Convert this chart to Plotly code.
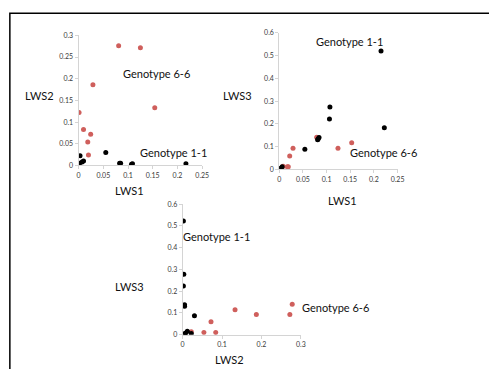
import plotly.graph_objects as go

W, H = 489, 369

# ---- Data ----
# Panel 1: LWS1 (x) vs LWS2 (y)
p1_g11_lws1 = [0.003, 0.055, 0.002, 0.007, 0.010, 0.083, 0.085, 0.107, 0.109, 0.217]
p1_g11_lws2 = [0.0225, 0.030, 0.005, 0.008, 0.010, 0.005, 0.005, 0.003, 0.004, 0.004]
p1_g66_lws1 = [0.081, 0.125, 0.029, 0.154, 0.001, 0.010, 0.0245, 0.0186, 0.020]
p1_g66_lws2 = [0.276, 0.2715, 0.186, 0.133, 0.122, 0.083, 0.072, 0.054, 0.024]

# Panel 2: LWS1 (x) vs LWS3 (y)
p2_g11_lws1 = [0.215, 0.107, 0.106, 0.222, 0.084, 0.082, 0.081, 0.054, 0.003, 0.002, 0.006]
p2_g11_lws3 = [0.520, 0.274, 0.221, 0.183, 0.140, 0.133, 0.130, 0.0886, 0.005, 0.004, 0.011]
p2_g66_lws1 = [0.079, 0.153, 0.124, 0.029, 0.022, 0.008, 0.017, 0.019]
p2_g66_lws3 = [0.141, 0.117, 0.093, 0.093, 0.059, 0.014, 0.011, 0.011]

# Panel 3: LWS2 (x) vs LWS3 (y)
p3_g11_lws2 = [0.002, 0.003, 0.002, 0.005, 0.005, 0.004, 0.030, 0.012, 0.008, 0.005, 0.022]
p3_g11_lws3 = [0.522, 0.278, 0.224, 0.137, 0.131, 0.134, 0.087, 0.016, 0.008, 0.004, 0.006]
p3_g66_lws2 = [0.278, 0.272, 0.187, 0.133, 0.072, 0.022, 0.054, 0.084]
p3_g66_lws3 = [0.140, 0.093, 0.093, 0.115, 0.060, 0.013, 0.010, 0.010]

ticks_025 = [0, 0.05, 0.1, 0.15, 0.2, 0.25]
ticks_025_text = ["0", "0.05", "0.1", "0.15", "0.2", "0.25"]
ticks_03f = [0, 0.05, 0.1, 0.15, 0.2, 0.25, 0.3]
ticks_03f_text = ["0", "0.05", "0.1", "0.15", "0.2", "0.25", "0.3"]
ticks_06 = [0, 0.1, 0.2, 0.3, 0.4, 0.5, 0.6]
ticks_06_text = ["0", "0.1", "0.2", "0.3", "0.4", "0.5", "0.6"]
ticks_03 = [0, 0.1, 0.2, 0.3]
ticks_03_text = ["0", "0.1", "0.2", "0.3"]

BLACK = "#000000"
RED = "#cf5f5c"
FONT = "Lato, 'Open Sans', sans-serif"


def fx(px):
    return px / W


def fy(py):
    return 1 - py / H


fig = go.Figure()

panels = [
    ("x", "y", p1_g11_lws1, p1_g11_lws2, p1_g66_lws1, p1_g66_lws2),
    ("x2", "y2", p2_g11_lws1, p2_g11_lws3, p2_g66_lws1, p2_g66_lws3),
    ("x3", "y3", p3_g11_lws2, p3_g11_lws3, p3_g66_lws2, p3_g66_lws3),
]
for xa, ya, bx, by, rx, ry in panels:
    fig.add_trace(go.Scatter(x=rx, y=ry, mode="markers", xaxis=xa, yaxis=ya,
                             marker=dict(color=RED, size=5), showlegend=False))
    fig.add_trace(go.Scatter(x=bx, y=by, mode="markers", xaxis=xa, yaxis=ya,
                             marker=dict(color=BLACK, size=5), showlegend=False))

axis_common = dict(showgrid=False, zeroline=False, showline=True, linecolor="#d4d4d4",
                   linewidth=1, ticks="outside", ticklen=3, tickcolor="#d4d4d4",
                   tickfont=dict(size=7, color="#3a3a3a", family=FONT), fixedrange=True)

fig.update_layout(
    width=W, height=H,
    margin=dict(l=0, r=0, t=0, b=0),
    paper_bgcolor="white", plot_bgcolor="white",
    xaxis=dict(domain=[fx(78), fx(204)], range=[0, 0.25], anchor="y",
               tickvals=ticks_025, ticktext=ticks_025_text, **axis_common),
    yaxis=dict(domain=[fy(164), fy(31)], range=[0, 0.3], anchor="x",
               tickvals=ticks_03f, ticktext=ticks_03f_text, **axis_common),
    xaxis2=dict(domain=[fx(282.5), fx(403)], range=[0, 0.25], anchor="y2",
                tickvals=ticks_025, ticktext=ticks_025_text, **axis_common),
    yaxis2=dict(domain=[fy(168), fy(28.5)], range=[0, 0.6], anchor="x2",
                tickvals=ticks_06, ticktext=ticks_06_text, **axis_common),
    xaxis3=dict(domain=[fx(184), fx(304.5)], range=[0, 0.3], anchor="y3",
                tickvals=ticks_03, ticktext=ticks_03_text, **axis_common),
    yaxis3=dict(domain=[fy(337), fy(203.5)], range=[0, 0.6], anchor="x3",
                tickvals=ticks_06, ticktext=ticks_06_text, **axis_common),
)

labels = [
    ("LWS2", 38, 93), ("LWS1", 130, 190),
    ("LWS3", 240, 93), ("LWS1", 347, 200),
    ("LWS3", 130, 288), ("LWS2", 232, 362),
    ("Genotype 6-6", 157, 70), ("Genotype 1-1", 175, 151),
    ("Genotype 1-1", 354, 37), ("Genotype 6-6", 389, 151),
    ("Genotype 1-1", 219, 237), ("Genotype 6-6", 340, 309),
]
for text, px, py in labels:
    fig.add_annotation(text=text, x=fx(px), y=fy(py), xref="paper", yref="paper",
                       showarrow=False, xanchor="center", yanchor="middle",
                       font=dict(size=11, color="#111111", family=FONT))

fig.add_shape(type="rect", xref="paper", yref="paper",
              x0=fx(8), y0=fy(380), x1=fx(500), y1=fy(8.5),
              line=dict(color="black", width=1.5), fillcolor="rgba(0,0,0,0)")

fig.write_html(
    "out.html",
    config={"displayModeBar": False, "staticPlot": True},
    post_script="document.body.style.margin='0';document.body.style.overflow='hidden';",
)
